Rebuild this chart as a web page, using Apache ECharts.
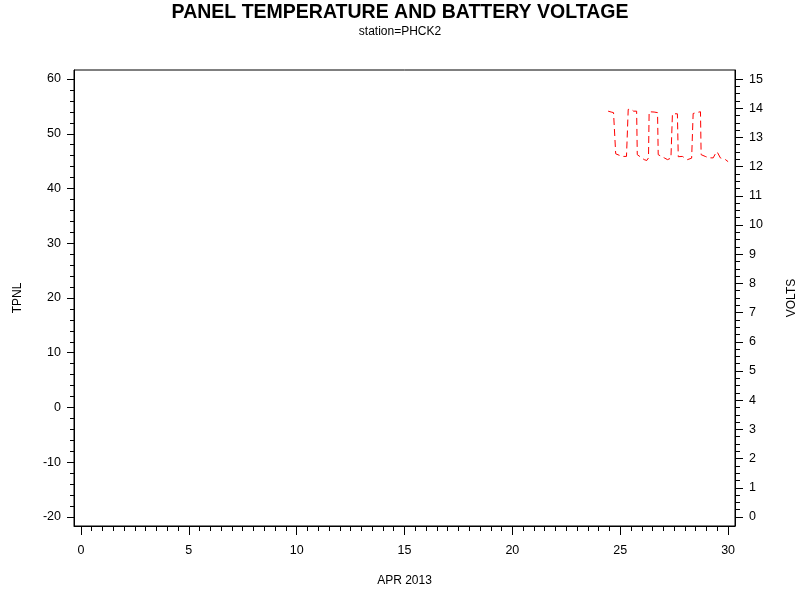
<!DOCTYPE html>
<html>
<head>
<meta charset="utf-8">
<script src="https://cdn.jsdelivr.net/npm/echarts@6/dist/echarts.min.js"></script>
<style>
  html, body { margin: 0; padding: 0; background: #fff; }
  #chart { width: 800px; height: 600px; }
</style>
</head>
<body>
<div id="chart"></div>
<script>
// day of April 2013 and battery voltage
const days = [24.44, 24.58, 24.69, 24.77, 24.79, 24.95, 25.11, 25.29, 25.37, 25.50,
  25.62, 25.76, 25.79, 25.88, 26.11, 26.23, 26.31, 26.34, 26.57, 26.73,
  26.76, 27.04, 27.19, 27.27, 27.35, 27.42, 27.65, 27.69, 27.88, 28.12,
  28.19, 28.31, 28.38, 28.53, 28.72, 28.75, 28.94, 29.11, 29.31, 29.41,
  29.49, 29.56, 29.64, 29.77, 29.88, 30.00]
const volts = [13.90, 13.87, 13.85, 13.85, 12.44, 12.39, 12.35, 12.35, 13.96, 13.97,
  13.90, 13.90, 12.41, 12.35, 12.24, 12.21, 12.30, 13.88, 13.87, 13.85,
  12.41, 12.30, 12.24, 12.21, 12.29, 13.81, 13.81, 12.34, 12.35, 12.24,
  12.27, 12.29, 13.82, 13.85, 13.88, 12.41, 12.35, 12.30, 12.30, 12.44,
  12.51, 12.51, 12.30, 12.26, 12.24, 12.17]

const xTicks = [0, 5, 10, 15, 20, 25, 30]
const tpnlTicks = [-20, -10, 0, 10, 20, 30, 40, 50, 60]
const voltTicks = [0, 1, 2, 3, 4, 5, 6, 7, 8, 9, 10, 11, 12, 13, 14, 15]

// minor tick positions
const xMinor = []
for (let i = 0; i <= 60; i++) xMinor.push(i / 2)
const tpnlMinor = []
for (let i = -20; i <= 60; i += 2) tpnlMinor.push(i)
const voltMinor = []
for (let i = 0; i <= 60; i++) voltMinor.push(i / 4)

const font = 'Liberation Sans, Arial, sans-serif'
const black = '#000'

function tickAxis(extra, ticks, len, labelMargin) {
  const withLabel = labelMargin != null
  return Object.assign({
    type: 'value',
    splitLine: { show: false },
    axisLine: { show: withLabel, onZero: false, lineStyle: { color: black, width: 1 } },
    axisTick: { show: true, inside: false, customValues: ticks, length: len, lineStyle: { color: black } },
    axisLabel: withLabel
      ? { customValues: ticks, margin: labelMargin, color: black, fontSize: 12.5, fontFamily: font }
      : { show: false }
  }, extra)
}

const data = days.map((d, i) => [d, volts[i]])

const chart = echarts.init(document.getElementById('chart'))
const option = {
  animation: false,
  backgroundColor: '#fff',
  title: {
    text: 'PANEL TEMPERATURE AND BATTERY VOLTAGE',
    subtext: 'station=PHCK2',
    left: 'center',
    top: -2,
    itemGap: 3,
    textStyle: { fontSize: 19.5, fontWeight: 'bold', color: black, fontFamily: font },
    subtextStyle: { fontSize: 12, color: black, fontFamily: font }
  },
  grid: {
    left: 74, right: 65, top: 70, bottom: 74,
    outerBoundsMode: 'none',
    show: true, borderColor: black, borderWidth: 1
  },
  xAxis: [
    tickAxis({
      min: -0.32, max: 30.32, position: 'bottom',
      name: 'APR 2013', nameLocation: 'middle', nameGap: 49,
      nameTextStyle: { color: black, fontSize: 12, fontFamily: font }
    }, xTicks, 9, 18),
    tickAxis({ min: -0.32, max: 30.32, position: 'bottom' }, xMinor, 5)
  ],
  yAxis: [
    tickAxis({
      min: -21.65, max: 61.65, position: 'left',
      name: 'TPNL', nameLocation: 'middle', nameGap: 50, nameRotate: 90,
      nameTextStyle: { color: black, fontSize: 12, fontFamily: font }
    }, tpnlTicks, 7, 13),
    tickAxis({ min: -21.65, max: 61.65, position: 'left' }, tpnlMinor, 4),
    tickAxis({
      min: -0.31, max: 15.31, position: 'right',
      name: 'VOLTS', nameLocation: 'middle', nameGap: 51, nameRotate: 90,
      nameTextStyle: { color: black, fontSize: 12, fontFamily: font }
    }, voltTicks, 8, 14),
    tickAxis({ min: -0.31, max: 15.31, position: 'right' }, voltMinor, 5)
  ],
  series: [
    {
      name: 'VOLTS',
      type: 'line',
      xAxisIndex: 0,
      yAxisIndex: 2,
      data: data,
      symbol: 'none',
      lineStyle: { color: '#ff0000', width: 1, type: [7, 4] }
    }
  ]
}
chart.setOption(option)
</script>
</body>
</html>
